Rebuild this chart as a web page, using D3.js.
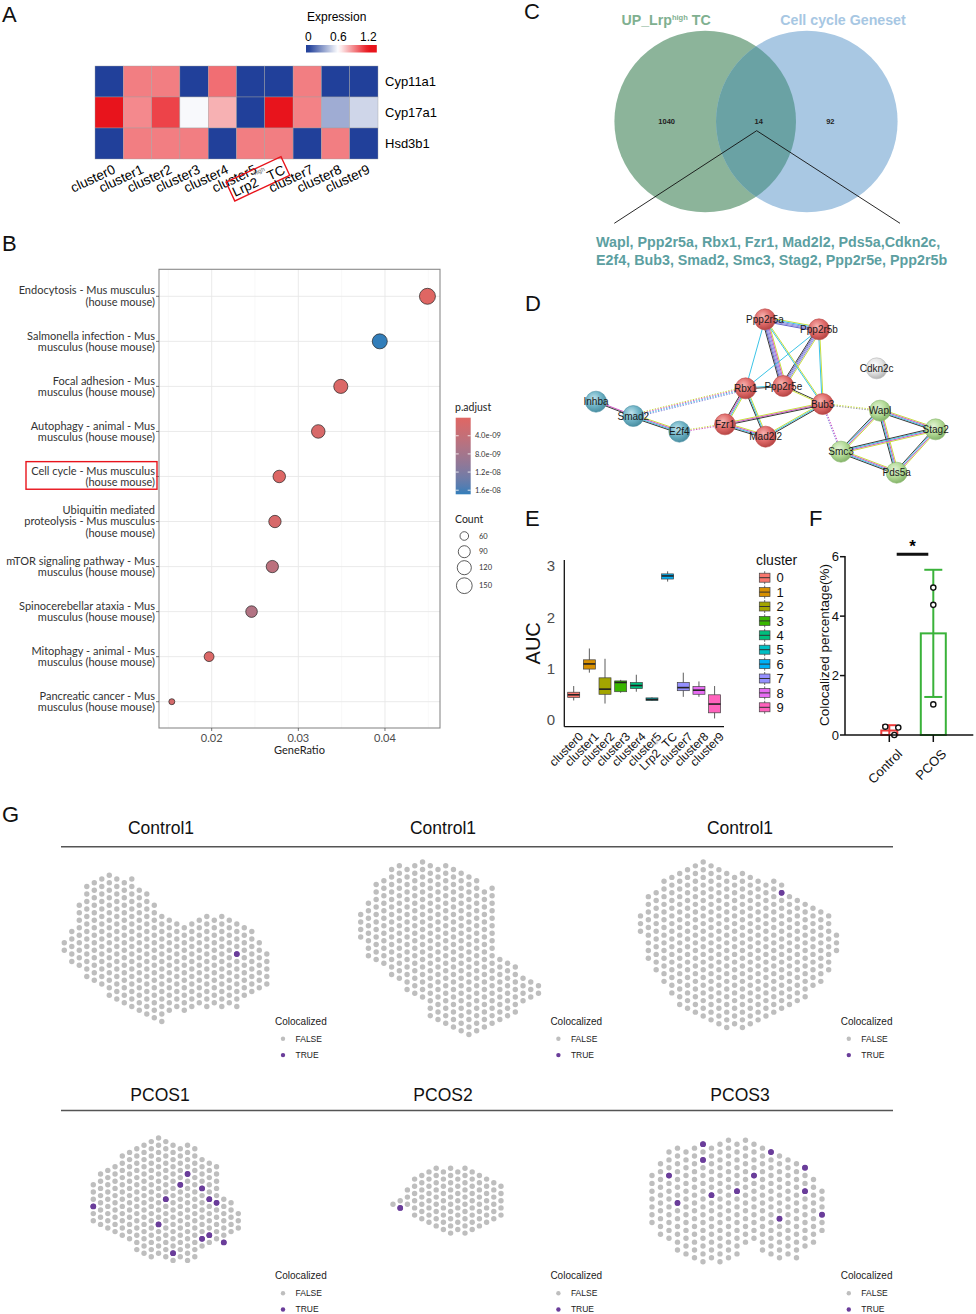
<!DOCTYPE html>
<html><head><meta charset="utf-8">
<script src="https://cdnjs.cloudflare.com/ajax/libs/d3/7.8.5/d3.min.js"></script>
<style>
html,body{margin:0;padding:0;background:#fff;}
svg{display:block;font-family:Arial,"Liberation Sans",sans-serif;}
</style></head><body>
<svg id="fig" width="976" height="1314"></svg>
<script>
// ================= DATA =================
// A: heatmap
const heatGenes = ["Cyp11a1", "Cyp17a1", "Hsd3b1"];
const heatClusters = ["cluster0","cluster1","cluster2","cluster3","cluster4","cluster5","Lrp2^highTC","cluster7","cluster8","cluster9"];
const exprCyp11a1 = [0, 0.93, 0.93, 0, 0.97, 0, 0, 0.93, 0, 0];
const exprCyp17a1 = [1.25, 0.9, 1.08, 0.58, 0.8, 0, 1.25, 0.92, 0.34, 0.47];
const exprHsd3b1  = [0, 0.93, 0.93, 0.93, 0, 0.93, 0.93, 0, 0.93, 0];
const exprTicks = [0, 0.6, 1.2];

// B: KEGG dot plot
const keggTerms = [
  "Endocytosis - Mus musculus (house mouse)",
  "Salmonella infection - Mus musculus (house mouse)",
  "Focal adhesion - Mus musculus (house mouse)",
  "Autophagy - animal - Mus musculus (house mouse)",
  "Cell cycle - Mus musculus (house mouse)",
  "Ubiquitin mediated proteolysis - Mus musculus (house mouse)",
  "mTOR signaling pathway - Mus musculus (house mouse)",
  "Spinocerebellar ataxia - Mus musculus (house mouse)",
  "Mitophagy - animal - Mus musculus (house mouse)",
  "Pancreatic cancer - Mus musculus (house mouse)"
];
const keggGeneRatio = [0.0449, 0.0394, 0.0349, 0.0323, 0.0278, 0.0273, 0.0270, 0.0246, 0.0197, 0.0154];
const keggCount = [155, 136, 120, 111, 96, 94, 93, 85, 68, 53];
const keggPadj = [1.0e-10, 1.69e-8, 8e-10, 1.2e-9, 5e-10, 1.3e-9, 5.0e-9, 6.3e-9, 7e-10, 1.6e-9];
const keggPadjRange = [2e-11, 1.69e-8];
const keggXTicks = [0.02, 0.03, 0.04];
const keggPadjTicks = [4e-9, 8e-9, 1.2e-8, 1.6e-8];
const keggPadjTickLabels = ["4.0e-09", "8.0e-09", "1.2e-08", "1.6e-08"];
const keggCountTicks = [60, 90, 120, 150];
const highlightTerm = "Cell cycle - Mus musculus (house mouse)";

// C: Venn
const vennNames = ["UP_Lrp^high TC", "Cell cycle Geneset"];
const vennCounts = [1040, 14, 92]; // left only, shared, right only
const vennGenesLine1 = "Wapl, Ppp2r5a, Rbx1, Fzr1, Mad2l2, Pds5a,Cdkn2c,";
const vennGenesLine2 = "E2f4, Bub3, Smad2, Smc3, Stag2, Ppp2r5e, Ppp2r5b";

// D: STRING network (layout units of the STRING canvas)
const netNodes = [
  {id:"Ppp2r5a", grp:"red",  lx:735,  ly:88},
  {id:"Ppp2r5b", grp:"red",  lx:897,  ly:118},
  {id:"Cdkn2c",  grp:"gray", lx:1070, ly:235},
  {id:"Rbx1",    grp:"red",  lx:677,  ly:295},
  {id:"Ppp2r5e", grp:"red",  lx:790,  ly:288},
  {id:"Bub3",    grp:"red",  lx:908,  ly:342},
  {id:"Inhba",   grp:"blue", lx:228,  ly:335},
  {id:"Smad2",   grp:"blue", lx:340,  ly:378},
  {id:"E2f4",    grp:"blue", lx:478,  ly:425},
  {id:"Fzr1",    grp:"red",  lx:615,  ly:403},
  {id:"Mad2l2",  grp:"red",  lx:737,  ly:440},
  {id:"Wapl",    grp:"green",lx:1080, ly:362},
  {id:"Stag2",   grp:"green",lx:1247, ly:418},
  {id:"Smc3",    grp:"green",lx:963,  ly:485},
  {id:"Pds5a",   grp:"green",lx:1130, ly:548}
];
const Y="#C8DF3C", C="#3CC4E6", M="#D254C6", K="#3a3a3a", P="#8C8CE0", G="#999";
const netEdges = [
  ["Ppp2r5a","Ppp2r5b",[Y,C,P,P,"#6464C8"],false],
  ["Ppp2r5a","Ppp2r5e",[Y,M,P,P,"#6464C8",K],false],
  ["Ppp2r5b","Ppp2r5e",[Y,P,P,"#6464C8",K],false],
  ["Ppp2r5a","Rbx1",[C],false],
  ["Ppp2r5b","Rbx1",[C],false],
  ["Ppp2r5a","Bub3",[Y,C],false],
  ["Ppp2r5b","Bub3",[Y,C],false],
  ["Rbx1","Ppp2r5e",[C,K],false],
  ["Ppp2r5e","Bub3",[K,Y],false],
  ["Rbx1","Fzr1",[Y,C,M,K],false],
  ["Rbx1","Mad2l2",[Y,C,K],false],
  ["Fzr1","Mad2l2",[Y,M,C,K],false],
  ["Fzr1","Bub3",[Y,M,K],false],
  ["Mad2l2","Bub3",[Y,C,K],false],
  ["Inhba","Smad2",[M,K],false],
  ["Smad2","E2f4",[Y,M,C,K],false],
  ["Smad2","Rbx1",[Y,M,C,P],true],
  ["E2f4","Fzr1",[Y,M],true],
  ["Bub3","Wapl",[Y,G],true],
  ["Bub3","Smc3",[M,P],true],
  ["Wapl","Stag2",[Y,M,C,K],false],
  ["Wapl","Smc3",[Y,M,C,K],false],
  ["Wapl","Pds5a",[Y,M,C,K],false],
  ["Stag2","Smc3",[Y,M,C,K],false],
  ["Stag2","Pds5a",[Y,M,C,K],false],
  ["Smc3","Pds5a",[Y,M,C,K],false]
];

// E: AUC box plot
const aucClusters = ["cluster0","cluster1","cluster2","cluster3","cluster4","cluster5","Lrp2^highTC","cluster7","cluster8","cluster9"];
const aucLegend = ["0","1","2","3","4","5","6","7","8","9"];
const aucWhiskerLow  = [0.38, 0.92, 0.32, 0.53, 0.55, 0.37, 2.69, 0.45, 0.45, 0.03];
const aucQ1          = [0.44, 0.99, 0.50, 0.55, 0.61, 0.38, 2.74, 0.57, 0.50, 0.14];
const aucMedian      = [0.49, 1.09, 0.60, 0.73, 0.67, 0.40, 2.80, 0.63, 0.58, 0.31];
const aucQ3          = [0.54, 1.17, 0.82, 0.76, 0.73, 0.43, 2.84, 0.73, 0.65, 0.49];
const aucWhiskerHigh = [0.66, 1.39, 1.19, 0.78, 0.88, 0.44, 2.89, 0.92, 0.75, 0.66];
const aucTicks = [0, 1, 2, 3];

// F: colocalized percentage
const colocGroups = ["Control", "PCOS"];
const colocMean = [0.15, 3.42];
const colocSD = [0.18, 2.14];
const colocPoints = [[0.28, 0.25, 0.0], [4.96, 4.38, 1.03]];
const colocJitter = [[-4, 9, 5], [0, 0, 0]];
const colocTicks = [0, 2, 4, 6];

// G: spatial spots: [column, first row, last row] on hex lattice (rows step 2)
const spotsControl1a = [[0,18,20],[1,15,23],[2,8,24],[3,3,27],[4,2,28],[5,1,29],[6,0,32],[7,1,33],[8,2,34],[9,1,35],[10,4,36],[11,5,37],[12,8,38],[13,11,39],[14,12,36],[15,13,35],[16,14,36],[17,13,35],[18,12,34],[19,11,35],[20,12,34],[21,11,35],[22,12,34],[23,13,35],[24,14,32],[25,15,31],[26,18,30],[27,21,29]];
const trueControl1a = [[23,21]];
const spotsControl1b = [[0,14,20],[1,11,25],[2,6,26],[3,5,27],[4,2,30],[5,1,31],[6,2,34],[7,1,35],[8,0,36],[9,1,41],[10,2,42],[11,1,43],[12,2,44],[13,3,45],[14,4,46],[15,5,45],[16,8,44],[17,7,43],[18,26,42],[19,27,41],[20,28,40],[21,31,37],[22,32,36],[23,33,35]];
const trueControl1b = [];
const spotsControl1c = [[0,14,18],[1,9,25],[2,8,28],[3,5,31],[4,4,34],[5,3,37],[6,2,38],[7,1,39],[8,0,40],[9,1,41],[10,2,42],[11,3,43],[12,4,42],[13,3,43],[14,4,42],[15,5,41],[16,6,40],[17,5,39],[18,6,38],[19,9,37],[20,10,36],[21,11,35],[22,12,32],[23,13,31],[24,14,28],[25,19,23]];
const trueControl1c = [[18,8]];
const spotsPCOS1 = [[0,13,23],[1,10,24],[2,9,25],[3,8,26],[4,5,27],[5,4,28],[6,3,31],[7,2,32],[8,1,33],[9,0,32],[10,1,33],[11,2,34],[12,3,33],[13,2,34],[14,3,33],[15,6,30],[16,7,29],[17,8,28],[18,17,29],[19,18,26],[20,21,25]];
const truePCOS1 = [[0,19],[13,10],[12,13],[15,14],[10,17],[16,17],[17,18],[9,24],[15,28],[16,27],[18,29],[11,32]];
const spotsPCOS2 = [[0,10,10],[1,9,11],[2,6,10],[3,3,13],[4,2,14],[5,1,15],[6,0,16],[7,1,17],[8,0,18],[9,1,17],[10,0,18],[11,1,17],[12,2,16],[13,3,15],[14,4,14],[15,5,13]];
const truePCOS2 = [[1,11]];
const spotsPCOS3 = [[0,9,21],[1,6,24],[2,3,25],[3,2,28],[4,3,29],[5,2,30],[6,1,31],[7,2,30],[8,1,31],[9,0,30],[10,1,29],[11,0,26],[12,1,25],[13,2,28],[14,3,29],[15,4,30],[16,5,29],[17,6,30],[18,7,27],[19,10,26],[20,13,23]];
const truePCOS3 = [[6,1],[14,3],[6,5],[18,7],[2,9],[12,9],[10,13],[18,13],[7,14],[3,16],[20,19],[15,20]];
const spotTitles = ["Control1","Control1","Control1","PCOS1","PCOS2","PCOS3"];
const spotLegendLevels = ["FALSE","TRUE"];

// ================= DRAWING =================
const svg = d3.select("#fig");
const defs = svg.append("defs");

function richLabel(sel, label, size, supSize, supColor) {
  const m = label.match(/^(.*?)\^([a-z]+)(.*)$/);
  if (!m) { sel.text(label); return; }
  sel.append("tspan").text(m[1]);
  sel.append("tspan").attr("font-size", supSize).attr("dy", -size*0.38).attr("fill", supColor || null).text(m[2]);
  sel.append("tspan").attr("dy", size*0.38).text(m[3]);
}
function panelLabel(t, x, y) {
  svg.append("text").attr("x", x).attr("y", y).attr("font-size", 22).attr("fill", "#111").text(t);
}
panelLabel("A", 2, 22); panelLabel("B", 2, 251); panelLabel("C", 524, 19);
panelLabel("D", 525, 311); panelLabel("E", 525, 526); panelLabel("F", 809, 526); panelLabel("G", 2, 822);

// ---------- A ----------
(function(){
  const g = svg.append("g");
  const hx = d3.scaleBand().domain(heatClusters).range([95, 378]);
  const hy = d3.scaleBand().domain(heatGenes).range([66, 159]);
  const col = d3.scaleLinear().domain([0, 0.6, 1.2]).range(["#21409A", "#FFFFFF", "#E8141C"]).clamp(true);
  const rows = [exprCyp11a1, exprCyp17a1, exprHsd3b1];
  heatGenes.forEach((gene, i) => {
    g.selectAll(null).data(rows[i]).join("rect")
      .attr("x", (d, j) => hx(heatClusters[j])).attr("y", hy(gene))
      .attr("width", hx.bandwidth()).attr("height", hy.bandwidth())
      .attr("fill", d => col(d)).attr("stroke", "#a0a0a0").attr("stroke-width", 0.4);
    g.append("text").attr("x", 385).attr("y", hy(gene) + hy.bandwidth()/2).attr("dy", "0.36em")
      .attr("font-size", 13).text(gene);
  });
  heatClusters.forEach(c => {
    const tr = `translate(${hx(c) + hx.bandwidth()/2 + 3},164) rotate(-25)`;
    const t = g.append("text").attr("transform", tr).attr("text-anchor", "end")
      .attr("dominant-baseline", "hanging").attr("font-size", 13.5);
    richLabel(t, c, 13.5, 6, "#666");
    if (c.includes("^")) {
      const bb = t.node().getBBox();
      g.append("rect").attr("transform", tr).attr("x", bb.x - 2).attr("y", bb.y - 1)
        .attr("width", bb.width + 4).attr("height", bb.height + 2)
        .attr("fill", "none").attr("stroke", "#E8141C").attr("stroke-width", 1.4);
    }
  });
  // legend
  const lx = d3.scaleLinear().domain([0, 1.2]).range([308.3, 368.3]);
  const grad = defs.append("linearGradient").attr("id", "gExpr");
  const lo = -0.046, hi = 1.37;
  d3.range(0, 1.0001, 0.05).forEach(t => {
    const v = lo + t*(hi - lo);
    grad.append("stop").attr("offset", t).attr("stop-color", col(v));
  });
  g.append("rect").attr("x", lx(lo)).attr("y", 45).attr("width", lx(hi) - lx(lo)).attr("height", 7.5).attr("fill", "url(#gExpr)");
  g.selectAll(null).data(exprTicks).join("text").attr("x", d => lx(d)).attr("y", 41)
    .attr("text-anchor", "middle").attr("font-size", 12).text(d => d);
  g.append("text").attr("x", 307).attr("y", 21).attr("font-size", 12).text("Expression");
})();

// ---------- B ----------
(function(){
  const g = svg.append("g").attr("font-family", "Lato, 'Open Sans', sans-serif");
  const x = d3.scaleLinear().domain([0.01392, 0.04635]).range([159, 440]);
  const y = d3.scalePoint().domain(keggTerms).range([296.3, 701.7]);
  const top = 269.3, bottom = 728;
  const col = d3.scaleLinear().domain(keggPadjRange).range(["#e06663", "#327eba"]).interpolate(d3.interpolateLab);
  const cMin = d3.min(keggCount), cMax = d3.max(keggCount);
  const sz = d3.scaleLinear().domain([0, 1]).range([3, 8]);
  const rad = c => sz(Math.sqrt(Math.max(0, (c - cMin)/(cMax - cMin))));
  [0.015, 0.025, 0.035, 0.045].forEach(v => g.append("line").attr("x1", x(v)).attr("x2", x(v)).attr("y1", top).attr("y2", bottom).attr("stroke", "#F3F3F3").attr("stroke-width", 0.6));
  keggXTicks.forEach(v => g.append("line").attr("x1", x(v)).attr("x2", x(v)).attr("y1", top).attr("y2", bottom).attr("stroke", "#E8E8E8").attr("stroke-width", 0.9));
  keggTerms.forEach(t => g.append("line").attr("x1", 159).attr("x2", 440).attr("y1", y(t)).attr("y2", y(t)).attr("stroke", "#E8E8E8").attr("stroke-width", 0.9));
  g.append("rect").attr("x", 159).attr("y", top).attr("width", 440 - 159).attr("height", bottom - top).attr("fill", "none").attr("stroke", "#8a8a8a").attr("stroke-width", 1.1);
  g.selectAll(null).data(keggTerms).join("circle")
    .attr("cx", (d, i) => x(keggGeneRatio[i])).attr("cy", d => y(d))
    .attr("r", (d, i) => rad(keggCount[i])).attr("fill", (d, i) => col(keggPadj[i]))
    .attr("stroke", "#222").attr("stroke-width", 0.7);
  function wrap(s, w) {
    const words = s.split(" "); const lines = []; let cur = "";
    words.forEach(wd => { const t = cur ? cur + " " + wd : wd; if (t.length > w && cur) { lines.push(cur); cur = wd; } else cur = t; });
    if (cur) lines.push(cur); return lines;
  }
  keggTerms.forEach(t => {
    const lines = wrap(t, 28); const lh = 11.6;
    const txt = g.append("text").attr("x", 155).attr("text-anchor", "end").attr("font-size", 11).attr("fill", "#333");
    lines.forEach((ln, k) => txt.append("tspan").attr("x", 155).attr("y", y(t) - (lines.length - 1)*lh/2 + k*lh).attr("dy", "0.36em").text(ln));
    g.append("line").attr("x1", 156).attr("x2", 159).attr("y1", y(t)).attr("y2", y(t)).attr("stroke", "#555").attr("stroke-width", 0.8);
    if (t === highlightTerm) {
      const bb = txt.node().getBBox();
      g.append("rect").attr("x", 26).attr("y", bb.y - 2).attr("width", 157 - 26).attr("height", bb.height + 3)
        .attr("fill", "none").attr("stroke", "#E8141C").attr("stroke-width", 1.4);
    }
  });
  keggXTicks.forEach(v => {
    g.append("line").attr("x1", x(v)).attr("x2", x(v)).attr("y1", bottom).attr("y2", bottom + 3).attr("stroke", "#555").attr("stroke-width", 0.8);
    g.append("text").attr("x", x(v)).attr("y", 742).attr("text-anchor", "middle").attr("font-size", 11).attr("fill", "#4d4d4d").text(v.toFixed(2));
  });
  g.append("text").attr("x", 299.5).attr("y", 754).attr("text-anchor", "middle").attr("font-size", 11).attr("fill", "#222").text("GeneRatio");
  g.append("text").attr("x", 455).attr("y", 411).attr("font-size", 10.5).attr("fill", "#222").text("p.adjust");
  const barTop = 417.7, barBot = 494.3;
  const ly = d3.scaleLinear().domain(keggPadjRange).range([barTop, barBot]);
  const lg = defs.append("linearGradient").attr("id", "gPadj").attr("x1", 0).attr("x2", 0).attr("y1", 0).attr("y2", 1);
  d3.range(0, 1.0001, 0.1).forEach(t => lg.append("stop").attr("offset", t).attr("stop-color", col(keggPadjRange[0] + t*(keggPadjRange[1] - keggPadjRange[0]))));
  g.append("rect").attr("x", 455.7).attr("y", barTop).attr("width", 15).attr("height", barBot - barTop).attr("fill", "url(#gPadj)");
  keggPadjTicks.forEach((v, i) => {
    g.append("line").attr("x1", 455.7).attr("x2", 458.7).attr("y1", ly(v)).attr("y2", ly(v)).attr("stroke", "#fff").attr("stroke-width", 0.8);
    g.append("line").attr("x1", 467.7).attr("x2", 470.7).attr("y1", ly(v)).attr("y2", ly(v)).attr("stroke", "#fff").attr("stroke-width", 0.8);
    g.append("text").attr("x", 475).attr("y", ly(v)).attr("dy", "0.35em").attr("font-size", 7.5).attr("fill", "#333").text(keggPadjTickLabels[i]);
  });
  g.append("text").attr("x", 455).attr("y", 523).attr("font-size", 10.5).attr("fill", "#222").text("Count");
  const sy = [536, 551.7, 567.7, 585.7];
  keggCountTicks.forEach((c, i) => {
    g.append("circle").attr("cx", 464.3).attr("cy", sy[i]).attr("r", rad(c)).attr("fill", "none").attr("stroke", "#333").attr("stroke-width", 0.8);
    g.append("text").attr("x", 479).attr("y", sy[i]).attr("dy", "0.35em").attr("font-size", 7.5).attr("fill", "#333").text(c);
  });
})();

// ---------- C ----------
(function(){
  const g = svg.append("g");
  const cy = 121.5, r = 90.8, cxL = 705.2, cxR = 806.8;
  g.append("circle").attr("cx", cxL).attr("cy", cy).attr("r", r).attr("fill", "#8CB49A");
  g.append("circle").attr("cx", cxR).attr("cy", cy).attr("r", r).attr("fill", "#A9C8E3");
  defs.append("clipPath").attr("id", "clipL").append("circle").attr("cx", cxL).attr("cy", cy).attr("r", r);
  g.append("circle").attr("cx", cxR).attr("cy", cy).attr("r", r).attr("fill", "#6AA2A4").attr("clip-path", "url(#clipL)");
  const tl = g.append("text").attr("x", 621.5).attr("y", 25).attr("font-size", 14.2).attr("font-weight", "bold").attr("fill", "#80B090");
  richLabel(tl, vennNames[0], 14.2, 7.5, null);
  g.append("text").attr("x", 780.3).attr("y", 25).attr("font-size", 14.2).attr("font-weight", "bold").attr("fill", "#A7C7E3").text(vennNames[1]);
  const nx = [666.7, 758.7, 830.3];
  vennCounts.forEach((v, i) => g.append("text").attr("x", nx[i]).attr("y", 121).attr("dy", "0.35em").attr("text-anchor", "middle")
    .attr("font-size", 7.5).attr("font-weight", "bold").attr("fill", "#222").text(v));
  g.append("path").attr("d", "M614.3,223.3 L756.7,130.7 L900,223.3").attr("fill", "none").attr("stroke", "#111").attr("stroke-width", 0.9);
  g.append("text").attr("x", 596).attr("y", 247).attr("font-size", 14.3).attr("font-weight", "bold").attr("fill", "#5C9FA1").text(vennGenesLine1);
  g.append("text").attr("x", 596).attr("y", 264.5).attr("font-size", 14.3).attr("font-weight", "bold").attr("fill", "#5C9FA1").text(vennGenesLine2);
})();

// ---------- D ----------
(function(){
  const g = svg.append("g");
  const nx = d3.scaleLinear().domain([0, 1368]).range([520, 976]);
  const ny = d3.scaleLinear().domain([0, 600]).range([290, 490]);
  const grpCol = {red:["#F6B3B0","#E06B6A","#B84645"], blue:["#BFE3EC","#6FB3C6","#4A8FA2"], green:["#E3F4D6","#B4DB98","#86B56B"], gray:["#FFFFFF","#E4E4E4","#B5B5B5"]};
  Object.entries(grpCol).forEach(([k, c]) => {
    const rg = defs.append("radialGradient").attr("id", "n_" + k).attr("cx", "40%").attr("cy", "35%").attr("r", "65%");
    rg.append("stop").attr("offset", "0%").attr("stop-color", c[0]);
    rg.append("stop").attr("offset", "55%").attr("stop-color", c[1]);
    rg.append("stop").attr("offset", "100%").attr("stop-color", c[2]);
  });
  const byId = {}; netNodes.forEach(n => byId[n.id] = n);
  netEdges.forEach(([a, b, cols, dotted]) => {
    const A = byId[a], B = byId[b];
    const x1 = nx(A.lx), y1 = ny(A.ly), x2 = nx(B.lx), y2 = ny(B.ly);
    const L = Math.hypot(x2 - x1, y2 - y1), px = -(y2 - y1)/L, py = (x2 - x1)/L;
    const k = cols.length, sp = 1.1;
    cols.forEach((c, i) => {
      const o = (i - (k - 1)/2)*sp;
      g.append("line").attr("x1", x1 + px*o).attr("y1", y1 + py*o).attr("x2", x2 + px*o).attr("y2", y2 + py*o)
        .attr("stroke", c).attr("stroke-width", 1).attr("stroke-dasharray", dotted ? "1.4,1.4" : null);
    });
  });
  netNodes.forEach(n => {
    g.append("circle").attr("cx", nx(n.lx)).attr("cy", ny(n.ly)).attr("r", 10.5).attr("fill", `url(#n_${n.grp})`)
      .attr("stroke", grpCol[n.grp][2]).attr("stroke-width", 0.6);
  });
  netNodes.forEach(n => {
    g.append("text").attr("x", nx(n.lx)).attr("y", ny(n.ly)).attr("dy", "0.35em").attr("text-anchor", "middle")
      .attr("font-size", 10).attr("fill", "#1a1a1a").text(n.id);
  });
})();

// ---------- E ----------
(function(){
  const g = svg.append("g");
  const hue = ["#F8766D","#D89000","#A3A500","#39B600","#00BF7D","#00BFC4","#00B0F6","#9590FF","#E76BF3","#FF62BC"];
  const x = d3.scalePoint().domain(aucClusters).range([564.3, 724]).padding(0.6);
  const y = d3.scaleLinear().domain([-0.13, 3.11]).range([726.7, 560]);
  const bw = 12;
  aucClusters.forEach((c, i) => {
    const cx = x(c);
    g.append("line").attr("x1", cx).attr("x2", cx).attr("y1", y(aucWhiskerLow[i])).attr("y2", y(aucWhiskerHigh[i])).attr("stroke", "#333").attr("stroke-width", 0.8);
    g.append("rect").attr("x", cx - bw/2).attr("y", y(aucQ3[i])).attr("width", bw).attr("height", Math.max(1, y(aucQ1[i]) - y(aucQ3[i])))
      .attr("fill", hue[i]).attr("stroke", "#444").attr("stroke-width", 0.7);
    g.append("line").attr("x1", cx - bw/2).attr("x2", cx + bw/2).attr("y1", y(aucMedian[i])).attr("y2", y(aucMedian[i])).attr("stroke", "#222").attr("stroke-width", 1.6);
    const t = g.append("text").attr("transform", `translate(${cx + 4},731) rotate(-45)`).attr("text-anchor", "end")
      .attr("dominant-baseline", "hanging").attr("font-size", 12).attr("fill", "#111");
    richLabel(t, c, 12, 4, "#999");
  });
  g.append("line").attr("x1", 564.3).attr("x2", 564.3).attr("y1", 560).attr("y2", 726.7).attr("stroke", "#111").attr("stroke-width", 1.3);
  g.append("line").attr("x1", 564.3).attr("x2", 724).attr("y1", 726.7).attr("y2", 726.7).attr("stroke", "#111").attr("stroke-width", 1.3);
  aucTicks.forEach(v => g.append("text").attr("x", 555).attr("y", y(v)).attr("dy", "0.36em").attr("text-anchor", "end")
    .attr("font-size", 15).attr("fill", "#4d4d4d").text(v));
  g.append("text").attr("transform", "translate(539.5,643.3) rotate(-90)").attr("text-anchor", "middle")
    .attr("font-size", 20).attr("fill", "#111").text("AUC");
  g.append("text").attr("x", 756).attr("y", 565).attr("font-size", 14).attr("fill", "#111").text("cluster");
  aucLegend.forEach((l, i) => {
    const ky = 577.7 + i*14.4;
    g.append("line").attr("x1", 764.7).attr("x2", 764.7).attr("y1", ky - 6.5).attr("y2", ky + 6.5).attr("stroke", "#444").attr("stroke-width", 0.8);
    g.append("rect").attr("x", 759.3).attr("y", ky - 4.5).attr("width", 10.7).attr("height", 9).attr("fill", hue[i]).attr("stroke", "#444").attr("stroke-width", 0.7);
    g.append("line").attr("x1", 759.3).attr("x2", 770).attr("y1", ky).attr("y2", ky).attr("stroke", "#333").attr("stroke-width", 1);
    g.append("text").attr("x", 776.5).attr("y", ky).attr("dy", "0.36em").attr("font-size", 13).attr("fill", "#111").text(l);
  });
})();

// ---------- F ----------
(function(){
  const g = svg.append("g");
  const x = d3.scalePoint().domain(colocGroups).range([889.3, 933.3]);
  const y = d3.scaleLinear().domain([0, 6]).range([735, 556.7]);
  const cols = ["#EE3B3B", "#3AB23A"];
  const bw = [16, 25];
  colocGroups.forEach((gr, i) => {
    const cx = x(gr);
    g.append("rect").attr("x", cx - bw[i]/2).attr("y", y(colocMean[i])).attr("width", bw[i]).attr("height", y(0) - y(colocMean[i]))
      .attr("fill", "none").attr("stroke", cols[i]).attr("stroke-width", 2);
    g.append("line").attr("x1", cx).attr("x2", cx).attr("y1", y(colocMean[i] + colocSD[i])).attr("y2", y(Math.max(0, colocMean[i] - colocSD[i]))).attr("stroke", cols[i]).attr("stroke-width", 2);
    const cap = i === 0 ? 7 : 9;
    g.append("line").attr("x1", cx - cap).attr("x2", cx + cap).attr("y1", y(colocMean[i] + colocSD[i])).attr("y2", y(colocMean[i] + colocSD[i])).attr("stroke", cols[i]).attr("stroke-width", 2);
    if (colocMean[i] - colocSD[i] > 0) g.append("line").attr("x1", cx - cap).attr("x2", cx + cap).attr("y1", y(colocMean[i] - colocSD[i])).attr("y2", y(colocMean[i] - colocSD[i])).attr("stroke", cols[i]).attr("stroke-width", 2);
    colocPoints[i].forEach((v, k) => g.append("circle").attr("cx", cx + colocJitter[i][k]).attr("cy", y(v)).attr("r", 2.6)
      .attr("fill", "#fff").attr("stroke", "#111").attr("stroke-width", 1.4));
    g.append("line").attr("x1", cx).attr("x2", cx).attr("y1", 735).attr("y2", 742).attr("stroke", "#111").attr("stroke-width", 1.5);
    g.append("text").attr("transform", `translate(${cx + 7},748) rotate(-45)`).attr("text-anchor", "end").attr("dominant-baseline", "hanging")
      .attr("font-size", 13).attr("fill", "#111").text(gr);
  });
  g.append("line").attr("x1", 845).attr("x2", 845).attr("y1", 556).attr("y2", 735).attr("stroke", "#111").attr("stroke-width", 1.5);
  g.append("line").attr("x1", 845).attr("x2", 973.3).attr("y1", 735).attr("y2", 735).attr("stroke", "#111").attr("stroke-width", 1.5);
  colocTicks.forEach(v => {
    g.append("line").attr("x1", 840).attr("x2", 845).attr("y1", y(v)).attr("y2", y(v)).attr("stroke", "#111").attr("stroke-width", 1.5);
    g.append("text").attr("x", 839).attr("y", y(v)).attr("dy", "0.36em").attr("text-anchor", "end").attr("font-size", 13).attr("fill", "#111").text(v);
  });
  g.append("text").attr("transform", "translate(829,645) rotate(-90)").attr("text-anchor", "middle").attr("font-size", 13.5).attr("fill", "#111").text("Colocalized percentage(%)");
  g.append("line").attr("x1", 896.7).attr("x2", 928.3).attr("y1", 554.3).attr("y2", 554.3).attr("stroke", "#111").attr("stroke-width", 3);
  g.append("text").attr("x", 912.5).attr("y", 552).attr("text-anchor", "middle").attr("font-size", 17).attr("font-weight", "bold").text("*");
})();

// ---------- G ----------
(function(){
  const g = svg.append("g");
  const panels = [
    {spots: spotsControl1a, tr: trueControl1a, x0: 64.3, dx: 7.5, y0: 875.3, hy: 3.75, tx: 161, ty: 834, lx: 275},
    {spots: spotsControl1b, tr: trueControl1b, x0: 360.7, dx: 7.73, y0: 862, hy: 3.75, tx: 443, ty: 834, lx: 550.4},
    {spots: spotsControl1c, tr: trueControl1c, x0: 640.5, dx: 7.84, y0: 862, hy: 3.85, tx: 740, ty: 834, lx: 840.8},
    {spots: spotsPCOS1, tr: truePCOS1, x0: 93.3, dx: 7.25, y0: 1138, hy: 3.6, tx: 160, ty: 1101, lx: 275},
    {spots: spotsPCOS2, tr: truePCOS2, x0: 393, dx: 7.2, y0: 1168.3, hy: 3.6, tx: 443, ty: 1101, lx: 550.4},
    {spots: spotsPCOS3, tr: truePCOS3, x0: 652, dx: 8.5, y0: 1140.3, hy: 3.917, tx: 740, ty: 1101, lx: 840.8}
  ];
  [846.7, 1110.5].forEach(yy => g.append("line").attr("x1", 61).attr("x2", 893).attr("y1", yy).attr("y2", yy).attr("stroke", "#555").attr("stroke-width", 1.4));
  panels.forEach((p, i) => {
    g.append("text").attr("x", p.tx).attr("y", p.ty).attr("text-anchor", "middle").attr("font-size", 17.5).attr("fill", "#111").text(spotTitles[i]);
    const pts = [];
    p.spots.forEach(([c, r0, r1]) => { for (let r = r0; r <= r1; r += 2) pts.push({c, r, t: p.tr.some(q => q[0] === c && q[1] === r)}); });
    const sx = d3.scaleLinear().domain([0, 1]).range([p.x0, p.x0 + p.dx]);
    const sy = d3.scaleLinear().domain([0, 1]).range([p.y0, p.y0 + p.hy]);
    g.selectAll(null).data(pts).join("circle").attr("cx", d => sx(d.c)).attr("cy", d => sy(d.r)).attr("r", 2.7)
      .attr("fill", d => d.t ? "#6A3D9A" : "#BEBEBE");
    g.selectAll(null).data(pts.filter(d => d.t)).join("circle").attr("cx", d => sx(d.c)).attr("cy", d => sy(d.r)).attr("r", 2.9).attr("fill", "#6A3D9A");
    const ly = i < 3 ? 1021.3 : 1275.7;
    g.append("text").attr("x", p.lx).attr("y", ly).attr("dy", "0.35em").attr("font-size", 10).attr("fill", "#222").text("Colocalized");
    spotLegendLevels.forEach((lv, k) => {
      const yy = ly + 17.5 + k*16.3;
      g.append("circle").attr("cx", p.lx + 8).attr("cy", yy).attr("r", 2.2).attr("fill", k ? "#6A3D9A" : "#BEBEBE");
      g.append("text").attr("x", p.lx + 20.5).attr("y", yy).attr("dy", "0.35em").attr("font-size", 8.5).attr("fill", "#222").text(lv);
    });
  });
})();
</script>
</body></html>
